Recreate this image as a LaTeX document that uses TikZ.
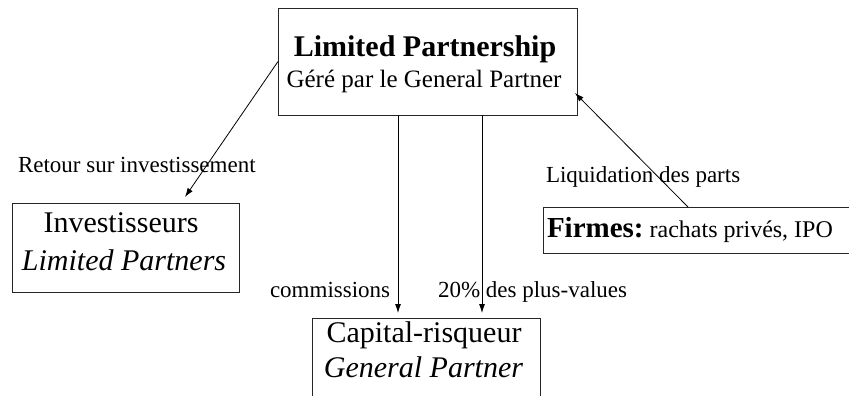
\documentclass[tikz,border=0pt]{standalone}
\usepackage{fontspec}
\setmainfont{Liberation Serif}
\usetikzlibrary{arrows.meta}
\begin{document}
\begin{tikzpicture}[x=1pt,y=-1pt,
  box/.style={draw=black!85,line width=0.9pt,inner sep=0pt,outer sep=0pt},
  txt/.style={inner sep=0pt,outer sep=0pt,anchor=base},
  lbl/.style={inner sep=0pt,outer sep=0pt,anchor=base west,font=\fontsize{23}{23}\selectfont},
  arr/.style={-{Latex[length=9pt,width=6pt]},line width=0.8pt}]
\useasboundingbox (0,0) rectangle (849,396);
% boxes
\node[box,minimum width=299pt,minimum height=107pt] (lp) at (427.5,61.5) {};
\node[box,minimum width=227pt,minimum height=89pt] (inv) at (125.5,247.5) {};
\node[box,minimum width=317pt,minimum height=46pt] (fi) at (701.5,230) {};
\node[box,minimum width=228pt,minimum height=112pt] (cap) at (426,374) {};
% box texts
\node[txt,font=\fontsize{30}{30}\selectfont\bfseries] (lpa) at (425,57) {Limited Partnership};
\node[txt,font=\fontsize{25}{25}\selectfont] (lpb) at (424,88) {Géré par le General Partner};
\node[txt,font=\fontsize{30}{30}\selectfont] (inva) at (121,232) {Investisseurs};
\node[txt,font=\fontsize{30}{30}\selectfont\itshape] (invb) at (124,270) {Limited Partners};
\node[txt,font=\fontsize{30}{30}\selectfont] (capa) at (424,342) {Capital-risqueur};
\node[txt,font=\fontsize{30}{30}\selectfont\itshape] (capb) at (423.5,377) {General Partner};
\node[txt,anchor=base west] (fia) at (547,237) {{\fontsize{29}{29}\selectfont\bfseries Firmes:}{\fontsize{24}{24}\selectfont\ rachats privés, IPO}};
% labels
\node[lbl] (l1) at (18,172) {Retour sur investissement};
\node[lbl] (l2) at (546,182) {Liquidation des parts};
\node[lbl] (l3) at (270,297) {commissions};
\node[lbl] (l4) at (438,297) {20\% des plus-values};
% connectors
\coordinate (c1) at (398,0);
\coordinate (c2) at (482,0);
\draw[arr] (lp.west) -- ([shift={(59.5pt,6pt)}]inv.north);
\draw[arr] ([xshift=-13.5pt]fi.north) -- ([shift={(-2pt,-31.5pt)}]lp.east);
\draw[arr,shorten >=5pt] (lp.south -| c1) -- (cap.north -| c1);
\draw[arr,shorten >=5pt] (lp.south -| c2) -- (cap.north -| c2);
\end{tikzpicture}
\end{document}
